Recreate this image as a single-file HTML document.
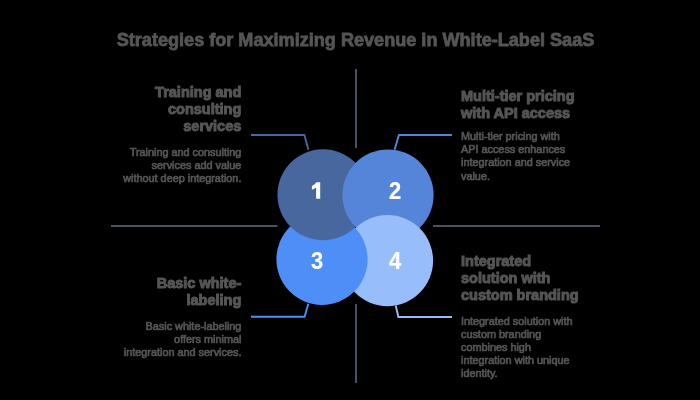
<!DOCTYPE html>
<html><head><meta charset="utf-8">
<style>
html,body{margin:0;padding:0;background:#000;}
#c{position:relative;width:700px;height:400px;overflow:hidden;background:#000;font-family:"Liberation Sans",sans-serif;}
svg{position:absolute;left:0;top:0;}
.t{position:absolute;white-space:nowrap;color:#555;transform:translateZ(0);}
.title{font-weight:bold;font-size:18.1px;line-height:22px;left:0;width:711px;text-align:center;top:28.5px;-webkit-text-stroke:0.8px #555;}
.h{font-weight:bold;font-size:14.5px;line-height:17.2px;-webkit-text-stroke:1px #555;}
.d{font-size:10.85px;line-height:13.1px;-webkit-text-stroke:0.7px #555;}
.r{text-align:right;}
.n{position:absolute;color:#fff;font-weight:bold;font-size:22.6px;line-height:26px;text-align:center;width:40px;-webkit-text-stroke:0.2px #fff;transform:translateZ(0) scale(0.97,1.02);}
</style></head><body><div id="c">
<svg width="700" height="400" viewBox="0 0 700 400">
 <defs>
  <clipPath id="k3"><circle cx="322" cy="259.3" r="46.5"/></clipPath>
 </defs>
 <g stroke="#4a5163" stroke-width="2" fill="none">
  <line x1="356" y1="69" x2="356" y2="148"/>
  <line x1="356" y1="304" x2="356" y2="383"/>
  <line x1="111" y1="226" x2="277.5" y2="226"/>
  <line x1="433" y1="226" x2="600" y2="226"/>
 </g>
 <circle cx="323" cy="194.75" r="45.55" fill="#47679e"/>
 <circle cx="388" cy="195" r="45.6" fill="#5585d9"/>
 <circle cx="387.5" cy="260.6" r="45.6" fill="#98bdfb"/>
 <circle cx="322" cy="259.3" r="45.6" fill="#4e8ef7"/>
 <circle cx="323" cy="194.75" r="45.55" fill="#47679e" clip-path="url(#k3)"/>
 <g fill="none" stroke-width="1.9">
  <polyline points="251,135 304.4,135 308.4,149.8" stroke="#47679e"/>
  <polyline points="452,135 398.9,135 394.6,149.8" stroke="#5585d9"/>
  <polyline points="251,316.7 304.6,316.7 308.3,303.8" stroke="#4e8ef7"/>
  <polyline points="452,317 398.4,317 395.7,305.5" stroke="#98bdfb"/>
 </g>
 <path d="M316.4,182.3 L320.2,182.3 L320.2,198.7 L316.1,198.7 L316.1,187.6 Q314.3,189.1 311.9,189.7 L311.9,186 Q314.9,184.9 316.4,182.3 Z" fill="#fff"/>
</svg>
<div class="n" style="left:374.6px;top:178.5px;">2</div>
<div class="n" style="left:296.9px;top:248.5px;">3</div>
<div class="n" style="left:374.9px;top:248.5px;">4</div>

<div class="t title">Strategies for Maximizing Revenue in White-Label SaaS</div>

<div class="t h r" style="right:458.7px;top:83.5px;">Training and<br>consulting<br>services</div>
<div class="t d r" style="right:458.6px;top:145.8px;">Training and consulting<br>services add value<br>without deep integration.</div>

<div class="t h" style="left:461px;top:88.0px;">Multi-tier pricing<br>with API access</div>
<div class="t d" style="left:461px;top:130.3px;">Multi-tier pricing with<br>API access enhances<br>integration and service<br>value.</div>

<div class="t h r" style="right:458.7px;top:274.5px;">Basic white-<br>labeling</div>
<div class="t d r" style="right:458.6px;top:319.9px;">Basic white-labeling<br>offers minimal<br>integration and services.</div>

<div class="t h" style="left:461px;top:252.8px;">Integrated<br>solution with<br>custom branding</div>
<div class="t d" style="left:461px;top:315.1px;">Integrated solution with<br>custom branding<br>combines high<br>integration with unique<br>identity.</div>
</div></body></html>
